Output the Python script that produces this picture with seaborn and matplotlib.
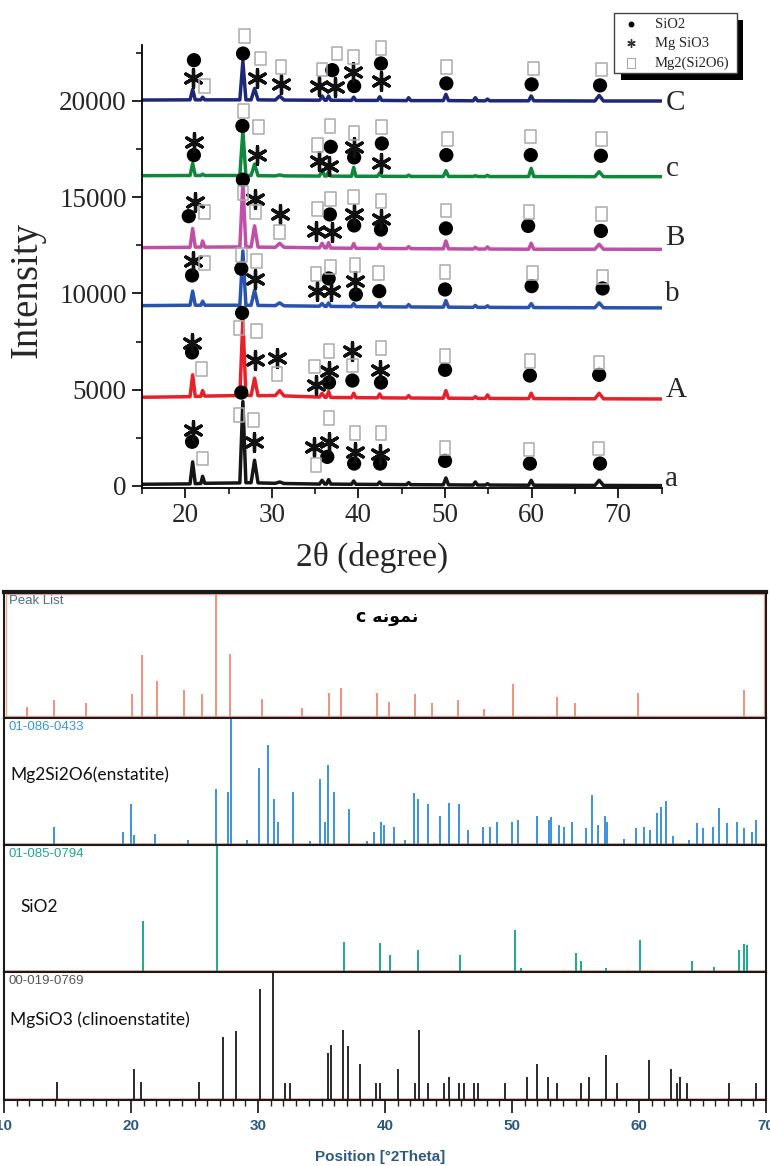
import numpy as np
import pandas as pd
import matplotlib
matplotlib.use("Agg")
import matplotlib.pyplot as plt
import seaborn as sns
from matplotlib.path import Path
from matplotlib.patches import Rectangle
from matplotlib.ticker import MultipleLocator

sns.set_style("ticks")
plt.rcParams['font.family'] = ['Liberation Serif', 'DejaVu Serif']

# ---------------- top panel: XRD patterns ----------------
two_theta = [15.0, 20.55, 20.85, 21.15, 21.8, 22.0, 22.25, 26.3, 26.65, 27.0, 27.6, 28.0, 28.4,
             30.4, 30.9, 31.4, 35.5, 35.8, 36.1, 36.3, 36.55, 36.8, 39.2, 39.45, 39.7,
             42.2, 42.45, 42.7, 45.55, 45.8, 46.05, 49.8, 50.1, 50.4, 53.25, 53.5, 53.75,
             54.65, 54.9, 55.15, 59.65, 59.95, 60.25, 67.3, 67.8, 68.3, 75.0]

int_a = [90, 110, 1253, 120, 130, 505, 140, 160, 4383, 170, 170, 1339, 160, 140, 209, 130,
         100, 296, 100, 100, 331, 100, 90, 261, 90, 80, 209, 80, 70, 174, 70, 60, 418, 60,
         50, 209, 50, 50, 120, 50, 40, 296, 40, 30, 296, 30, 20]
int_A = [4610, 4640, 5774, 4650, 4660, 4957, 4670, 4700, 8643, 4710, 4700, 5600, 4690, 4700,
         4957, 4680, 4620, 4818, 4610, 4610, 4904, 4600, 4590, 4818, 4590, 4580, 4783, 4580,
         4570, 4696, 4570, 4560, 4957, 4560, 4550, 4640, 4550, 4550, 4730, 4550, 4540, 4818,
         4540, 4530, 4818, 4530, 4520]
int_b = [9370, 9390, 10122, 9390, 9390, 9600, 9390, 9390, 12208, 9390, 9390, 10174, 9380,
         9370, 9513, 9360, 9340, 9478, 9330, 9330, 9513, 9330, 9320, 9478, 9320, 9310, 9513,
         9310, 9300, 9426, 9300, 9290, 9635, 9290, 9280, 9380, 9280, 9280, 9360, 9280, 9270,
         9478, 9270, 9260, 9513, 9260, 9252]
int_B = [12382, 12400, 13374, 12410, 12410, 12730, 12410, 12420, 15750, 12420, 12420, 13513,
         12410, 12400, 12608, 12400, 12370, 12608, 12370, 12370, 12643, 12360, 12350, 12591,
         12350, 12340, 12556, 12340, 12330, 12435, 12330, 12320, 12730, 12320, 12310, 12400,
         12310, 12310, 12420, 12310, 12300, 12608, 12300, 12300, 12556, 12300, 12295]
int_c = [16121, 16130, 16759, 16130, 16130, 16200, 16130, 16130, 18448, 16130, 16130, 16724,
         16120, 16110, 16160, 16110, 16100, 16414, 16100, 16100, 16328, 16100, 16090, 16552,
         16090, 16090, 16259, 16090, 16080, 16150, 16080, 16080, 16380, 16080, 16080, 16120,
         16080, 16075, 16140, 16075, 16075, 16500, 16075, 16070, 16328, 16070, 16069]
int_C = [20050, 20060, 20603, 20060, 20060, 20200, 20060, 20060, 22069, 20060, 20060, 20655,
         20060, 20050, 20260, 20050, 20040, 20260, 20040, 20040, 20260, 20040, 20030, 20200,
         20030, 20030, 20220, 20030, 20020, 20170, 20020, 20020, 20345, 20020, 20010, 20170,
         20010, 20010, 20100, 20010, 20010, 20260, 20010, 20000, 20290, 20000, 20000]

sample_names = ["a", "A", "b", "B", "c", "C"]
sample_colors = ["#161616", "#e8202a", "#2a52b0", "#c050a6", "#10883c", "#1e2878"]
sample_label_y = [370, 4980, 9950, 12900, 16450, 19880]

# markers (2theta, intensity) -- SiO2 circles
circle_x = [21.0, 26.67, 36.97, 39.5, 42.6, 50.15, 60.0, 67.9,        # C
            20.99, 26.6, 36.8, 39.5, 42.7, 50.15, 59.9, 68.0,         # c
            20.4, 26.65, 36.7, 39.5, 42.6, 50.1, 59.6, 68.0,          # B
            20.78, 26.47, 36.56, 39.7, 42.4, 50.0, 60.0, 68.2,        # b
            20.78, 26.56, 36.6, 39.3, 42.6, 50.0, 59.8, 67.8,         # A
            20.78, 26.47, 36.4, 39.5, 42.5, 50.0, 59.8, 67.9]         # a
circle_y = [22120, 22465, 21603, 20776, 21948, 20914, 20862, 20810,
            17190, 18707, 17621, 17069, 17793, 17190, 17190, 17155,
            14017, 15914, 14104, 13535, 13320, 13380, 13510, 13250,
            10939, 11287, 10782, 9948, 10122, 10209, 10383, 10261,
            6939, 8991, 5374, 5478, 5374, 6035, 5739, 5774,
            2296, 4852, 1513, 1165, 1165, 1305, 1165, 1165]

# Mg SiO3 asterisks
star_x = [20.9, 28.3, 31.06, 35.5, 37.3, 39.4, 42.6,       # C
          20.99, 28.3, 35.4, 36.6, 39.5, 42.65,            # c
          21.08, 28.05, 30.9, 35.1, 36.9, 39.5, 42.6,      # B
          20.87, 28.1, 35.2, 36.8, 39.6,                   # b
          20.78, 28.1, 30.6, 35.1, 36.6, 39.2, 42.5,       # A
          20.87, 27.98, 34.9, 36.6, 39.6, 42.5]            # a
star_y = [21207, 21207, 20862, 20776, 20741, 21500, 21034,
          17879, 17190, 16897, 16638, 17586, 16776,
          14741, 14914, 14138, 13252, 13200, 14138, 13880,
          11687, 10730, 10122, 10122, 10643,
          7426, 6557, 6643, 5252, 5948, 6991, 6000,
          2905, 2296, 2035, 2296, 1774, 1687]

# Mg2(Si2O6) squares
square_x = [22.2, 26.85, 28.7, 31.06, 35.8, 37.5, 39.4, 42.6, 50.2, 60.2, 68.1,     # C
            26.72, 28.45, 35.3, 36.7, 39.5, 42.65, 50.3, 59.9, 68.1,              # c
            22.2, 26.65, 28.1, 30.9, 35.3, 36.8, 39.4, 42.6, 50.1, 59.7, 68.1,     # B
            22.2, 26.47, 28.24, 35.1, 36.8, 39.6, 42.3, 50.0, 60.1, 68.2,         # b
            21.9, 26.2, 28.2, 30.6, 34.9, 36.6, 39.3, 42.6, 50.0, 59.8, 67.8,      # A
            21.98, 26.2, 27.9, 35.1, 36.6, 39.6, 42.6, 50.0, 59.7, 67.7]          # a
square_y = [20776, 23362, 22207, 21776, 21638, 22465, 22293, 22758, 21776, 21690, 21638,
            19483, 18672, 17707, 18707, 18328, 18655, 18017, 18155, 18017,
            14224, 15224, 14224, 13200, 14396, 14914, 15000, 14828, 14310, 14224, 14138,
            11565, 11982, 11687, 10991, 11374, 11461, 11078, 11113, 11078, 10870,
            6070, 8209, 8070, 5826, 6209, 6991, 6261, 7165, 6765, 6504, 6417,
            1426, 3687, 3426, 1113, 3513, 2766, 2766, 1983, 1896, 1948]

legend_labels = ["SiO2", "Mg SiO3", "Mg2(Si2O6)"]

# ---------------- bottom panel: reference stick patterns ----------------
peaklist_pos = [11.8, 13.95, 16.44, 20.08, 20.89, 22.08, 24.15, 25.6, 26.68, 27.83, 30.32,
                33.47, 35.6, 36.53, 39.37, 40.29, 42.4, 43.74, 45.74, 47.77, 50.07, 53.52,
                54.94, 59.92, 68.24]
peaklist_int = [9, 14, 12, 19, 50, 29, 22, 19, 100, 51, 15, 8, 20, 24, 20, 13, 19, 12, 14, 7,
                27, 17, 12, 20, 22]

enstatite_pos = [13.95, 19.4, 19.97, 20.24, 21.9, 24.5, 26.72, 27.64, 27.9, 29.17,
                 30.05, 30.8, 31.28, 31.6, 32.74, 34.08, 34.92, 35.3, 35.5, 35.96,
                 37.15, 38.57, 39.14, 39.7, 39.9, 40.7, 41.55, 42.25, 42.6, 43.4,
                 44.3, 45.05, 45.8, 46.5, 47.7, 48.3, 48.8, 50.0, 50.5, 52.0,
                 52.9, 53.1, 53.7, 54.1, 54.7, 55.8, 56.3, 56.8, 57.3, 57.5,
                 58.8, 59.8, 60.4, 60.9, 61.4, 61.7, 62.1, 62.7, 63.9, 64.6,
                 65.0, 65.8, 66.3, 66.9, 67.7, 68.3, 68.9, 69.2]
enstatite_int = [14, 10, 32, 8, 9, 4, 44, 42, 100, 4,
                 61, 79, 36, 18, 42, 3, 52, 18, 63, 42,
                 28, 3, 10, 18, 16, 14, 4, 41, 36, 32,
                 23, 33, 32, 12, 14, 14, 18, 18, 20, 23,
                 20, 22, 16, 14, 18, 13, 39, 16, 23, 18,
                 5, 13, 14, 12, 25, 30, 35, 7, 4, 17,
                 13, 14, 29, 17, 18, 13, 10, 20]

sio2_pos = [20.95, 26.77, 36.74, 39.6, 40.38, 42.57, 45.94, 50.24, 50.7, 55.0, 55.45, 57.37,
            60.1, 64.2, 65.9, 67.88, 68.26, 68.5]
sio2_int = [40, 100, 24, 23, 13, 17, 13, 33, 3, 15, 9, 3, 25, 9, 4, 17, 22, 21]

clino_pos = [14.14, 20.2, 20.81, 25.34, 27.25, 28.29, 30.13, 31.17, 32.12, 32.5,
             35.5, 35.77, 36.69, 37.07, 38.07, 39.33, 39.6, 41.06, 42.4, 42.7,
             43.36, 44.62, 45.05, 45.85, 46.23, 47.0, 47.3, 49.42, 51.22, 51.99,
             52.87, 53.52, 55.44, 56.09, 57.43, 58.24, 60.8, 62.53, 62.99, 63.2,
             63.8, 67.06, 69.24]
clino_int = [14, 24, 14, 14, 49, 54, 87, 100, 13, 13,
             37, 43, 55, 42, 28, 13, 13, 24, 13, 55,
             13, 13, 18, 13, 13, 13, 13, 13, 18, 28,
             18, 13, 13, 18, 35, 13, 31, 24, 13, 18,
             13, 13, 13]

panel_codes = ["Peak List", "01-086-0433", "01-085-0794", "00-019-0769"]
panel_names = ["c \uFEEA\uFEE7\uFEEE\uFEE4\uFEE7", "Mg2Si2O6(enstatite)", "SiO2",
               "MgSiO3 (clinoenstatite)"]
panel_colors = ["#f2907c", "#3a94dc", "#1ea88c", "#2a2a2a"]
panel_code_colors = ["#4d6d8c", "#3a94dc", "#1ea88c", "#555555"]
bottom_ticks = [10, 20, 30, 40, 50, 60, 70]

# ---------------- figure ----------------
W, H = 770, 1166
fig = plt.figure(figsize=(W / 100, H / 100), dpi=100)


def box(x0, y0, x1, y1):
    return [x0 / W, 1 - y1 / H, (x1 - x0) / W, (y1 - y0) / H]


ax = fig.add_axes(box(142, 45, 661.5, 488))
frames = []
for name, vals in zip(sample_names, [int_a, int_A, int_b, int_B, int_c, int_C]):
    frames.append(pd.DataFrame({"two_theta": two_theta, "intensity": vals, "sample": name}))
df = pd.concat(frames, ignore_index=True)
sns.lineplot(data=df, x="two_theta", y="intensity", hue="sample", hue_order=sample_names,
             palette=dict(zip(sample_names, sample_colors)), estimator=None, sort=False,
             lw=2.5, legend=False, ax=ax)

sns.scatterplot(x=circle_x, y=circle_y, color="black", s=105, marker="o", edgecolor="none",
                ax=ax, clip_on=False, zorder=5)
sns.scatterplot(x=star_x, y=star_y, color="#111111", s=160, marker=(6, 2, 0), linewidth=2.4,
                ax=ax, clip_on=False, zorder=5)
sq_path = Path([(-0.38, -0.5), (0.38, -0.5), (0.38, 0.5), (-0.38, 0.5), (-0.38, -0.5)],
               [Path.MOVETO, Path.LINETO, Path.LINETO, Path.LINETO, Path.CLOSEPOLY])
ax.scatter(square_x, square_y, s=100, marker=sq_path, facecolors="none",
           edgecolors="#ababab", linewidths=1.1, clip_on=False, zorder=5)

for name, yv in zip(sample_names, sample_label_y):
    ax.text(75.45, yv, name, fontsize=21, ha="left", va="center", clip_on=False)

ax.set_xlim(15, 75)
ax.set_ylim(-104, 22909)
ax.set_xticks([20, 30, 40, 50, 60, 70])
ax.set_yticks([0, 5000, 10000, 15000, 20000])
ax.xaxis.set_minor_locator(MultipleLocator(5))
ax.yaxis.set_minor_locator(MultipleLocator(2500))
ax.tick_params(which="major", length=7, width=1.2, labelsize=19.5, color="black", pad=4)
ax.tick_params(which="minor", length=4, width=1.1, color="black")
for s in ["top", "right"]:
    ax.spines[s].set_visible(False)
for s in ["left", "bottom"]:
    ax.spines[s].set_linewidth(1.3)
    ax.spines[s].set_color("black")
ax.set_xlabel("")
ax.set_ylabel("")
fig.text(27 / W, 1 - 290 / H, "Intensity", rotation=90, fontsize=28, ha="center", va="center")
fig.text(372 / W, 1 - 557 / H, "2\u03b8 (degree)", fontsize=24, ha="center", va="center")

# legend box with black shadow
fig.add_artist(Rectangle((621 / W, 1 - 80 / H), 122 / W, 60 / H, transform=fig.transFigure,
                         facecolor="black", edgecolor="none", zorder=10))
fig.add_artist(Rectangle((614 / W, 1 - 73 / H), 123 / W, 60 / H, transform=fig.transFigure,
                         facecolor="white", edgecolor="#444444", lw=1.0, zorder=11))
lg_y = [24, 43, 63]
fig.add_artist(plt.Line2D([631 / W], [1 - lg_y[0] / H], marker="o", ms=3.2, color="black",
                          ls="", transform=fig.transFigure, zorder=12))
fig.add_artist(plt.Line2D([631 / W], [1 - lg_y[1] / H], marker=(6, 2, 0), ms=6, mew=1.0,
                          color="#333333", ls="", transform=fig.transFigure, zorder=12))
fig.add_artist(plt.Line2D([631 / W], [1 - lg_y[2] / H], marker=sq_path, ms=7, mew=0.8,
                          mfc="none", mec="#aaaaaa", ls="", transform=fig.transFigure, zorder=12))
for lab, yy in zip(legend_labels, lg_y):
    fig.text(655 / W, 1 - yy / H, lab, fontsize=10.5, ha="left", va="center", zorder=12)

# ---------------- bottom stick panels ----------------
panel_pix = [(592, 718), (718, 845), (845, 972), (972, 1100)]
pos_all = [peaklist_pos, enstatite_pos, sio2_pos, clino_pos]
int_all = [peaklist_int, enstatite_int, sio2_int, clino_int]
name_xy = [(0.503, 0.80, "center"), (0.008, 0.55, "left"), (0.021, 0.51, "left"),
           (0.008, 0.625, "left")]
axes_b = []
for i, (y0, y1) in enumerate(panel_pix):
    axb = fig.add_axes(box(4, y0, 766, y1))
    axes_b.append(axb)
    axb.vlines(pos_all[i], 0, int_all[i], colors=panel_colors[i], lw=1.4)
    axb.set_xlim(10, 70)
    axb.set_ylim(0, 100)
    axb.set_yticks([])
    axb.axhline(1.0, color="#f4a895", lw=1.2, zorder=0)
    for s in axb.spines.values():
        s.set_color("#1a1a1a")
        s.set_linewidth(1.5)
    axb.text(0.006, 0.975, panel_codes[i], transform=axb.transAxes, ha="left", va="top",
             fontsize=9.5, color=panel_code_colors[i],
             family=["Liberation Sans Narrow", "Liberation Sans"])
    nx, ny, nha = name_xy[i]
    if i == 0:
        axb.text(nx, ny, panel_names[i], transform=axb.transAxes, ha=nha, va="center",
                 fontsize=12.5, fontweight="bold", color="black", family=["DejaVu Sans"])
        axb.spines["top"].set_linewidth(3)
        axb.add_patch(Rectangle((0.003, 0.012), 0.994, 0.975, transform=axb.transAxes,
                                fill=False, edgecolor="#f4a895", lw=1.0))
    else:
        axb.text(nx, ny, panel_names[i], transform=axb.transAxes, ha=nha, va="center",
                 fontsize=12.5, color="#111111", family=["Lato", "DejaVu Sans"])
    if i < 3:
        axb.tick_params(axis="x", which="both", bottom=False, labelbottom=False)

axl = axes_b[-1]
axl.set_xticks(bottom_ticks)
axl.xaxis.set_minor_locator(MultipleLocator(1))
axl.tick_params(axis="x", which="major", length=9, width=1.3, color="#222222",
                labelsize=11, labelcolor="#2f5a80", pad=5)
axl.tick_params(axis="x", which="minor", length=4, width=1.0, color="#222222")
for lbl in axl.get_xticklabels():
    lbl.set_family(["Liberation Sans Narrow", "Liberation Sans"])
    lbl.set_fontweight("bold")
fig.text(380 / W, 1 - 1157 / H, "Position [\u00b02Theta]", fontsize=11, ha="center",
         va="center", color="#2f5a80", fontweight="bold",
         family=["Liberation Sans Narrow", "Liberation Sans"])

fig.savefig("out.png", dpi=100)
